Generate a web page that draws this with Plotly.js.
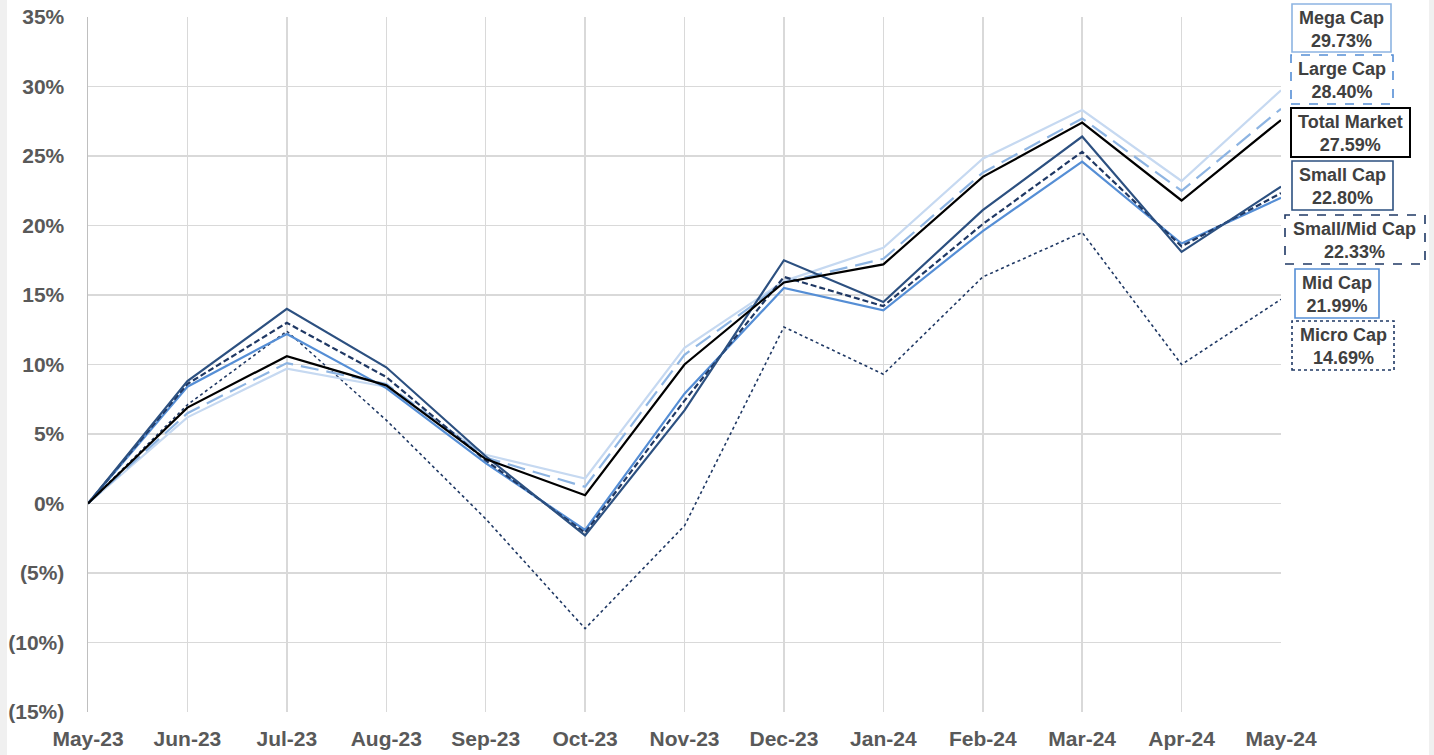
<!DOCTYPE html>
<html>
<head>
<meta charset="utf-8">
<script src="https://cdn.plot.ly/plotly-3.0.1.min.js"></script>
<style>html,body{margin:0;padding:0;background:#fff;}#chart{width:1434px;height:755px;}</style>
</head>
<body>
<div id="chart"></div>
<script>
// ---- Data ----
const months = ["May-23","Jun-23","Jul-23","Aug-23","Sep-23","Oct-23","Nov-23","Dec-23","Jan-24","Feb-24","Mar-24","Apr-24","May-24"];
const megaCap     = [0, 6.2, 9.7, 8.4, 3.5, 1.8, 11.2, 16.0, 18.4, 24.8, 28.3, 23.2, 29.73];
const largeCap    = [0, 6.5, 10.1, 8.6, 3.3, 1.2, 10.7, 15.9, 17.6, 23.8, 27.7, 22.5, 28.40];
const totalMarket = [0, 6.9, 10.6, 8.5, 3.2, 0.6, 10.0, 15.9, 17.2, 23.5, 27.4, 21.8, 27.59];
const smallCap    = [0, 8.8, 14.0, 9.8, 3.4, -2.3, 6.7, 17.5, 14.5, 21.1, 26.4, 18.1, 22.80];
const smallMidCap = [0, 8.6, 13.0, 9.1, 3.1, -2.1, 7.4, 16.3, 14.2, 20.1, 25.3, 18.5, 22.33];
const midCap      = [0, 8.4, 12.2, 8.3, 2.9, -1.9, 7.9, 15.5, 13.9, 19.6, 24.6, 18.7, 21.99];
const microCap    = [0, 7.1, 12.4, 6.0, -1.1, -9.0, -1.6, 12.7, 9.3, 16.3, 19.5, 10.0, 14.69];
const yTickVals = [-15,-10,-5,0,5,10,15,20,25,30,35];
const yTickText = ["(15%)","(10%)","(5%)","0%","5%","10%","15%","20%","25%","30%","35%"];
const seriesNames = ["Mega Cap","Large Cap","Total Market","Small Cap","Small/Mid Cap","Mid Cap","Micro Cap"];
const finalValues = ["29.73%","28.40%","27.59%","22.80%","22.33%","21.99%","14.69%"];

// ---- Styles ----
const W = 1434, H = 755;
const M = {l: 88, r: 153, t: 17, b: 43};
const pw = W - M.l - M.r, ph = H - M.t - M.b;
const px2x = p => (p - M.l) / pw;
const py2y = p => (H - M.b - p) / ph;

const styles = {
  "Mega Cap":      {color: "#C6D9F1", dash: "solid",   width: 2.2, box: "#8DB4E2", boxDash: "solid"},
  "Large Cap":     {color: "#8DB4E2", dash: "18px,8px", width: 2.2, box: "#558ED5", boxDash: "dash"},
  "Total Market":  {color: "#000000", dash: "solid",   width: 2.2, box: "#000000", boxDash: "solid"},
  "Small Cap":     {color: "#2C5080", dash: "solid",   width: 2.2, box: "#2C5080", boxDash: "solid"},
  "Small/Mid Cap": {color: "#1F3864", dash: "6px,3px", width: 2.2, box: "#1F3864", boxDash: "dash"},
  "Mid Cap":       {color: "#558ED5", dash: "solid",   width: 2.2, box: "#558ED5", boxDash: "solid"},
  "Micro Cap":     {color: "#1F3864", dash: "dot",     width: 1.6, box: "#1F3864", boxDash: "dot"}
};
// box pixel extents [x0,x1,y0,y1]
const boxes = {
  "Mega Cap":      [1292, 1391, 4, 52],
  "Large Cap":     [1291, 1393, 55, 104],
  "Total Market":  [1291, 1410, 108, 157],
  "Small Cap":     [1292, 1393, 161, 210],
  "Small/Mid Cap": [1285, 1425, 215, 264],
  "Mid Cap":       [1295, 1379, 269, 318],
  "Micro Cap":     [1292, 1394, 321, 370]
};

const valuesByName = {
  "Mega Cap": megaCap, "Large Cap": largeCap, "Total Market": totalMarket,
  "Small Cap": smallCap, "Small/Mid Cap": smallMidCap, "Mid Cap": midCap, "Micro Cap": microCap
};
const drawOrder = ["Micro Cap","Mega Cap","Large Cap","Mid Cap","Small/Mid Cap","Small Cap","Total Market"];
const traces = drawOrder.map(n => ({
  type: "scatter", mode: "lines", name: n, x: months, y: valuesByName[n],
  line: {color: styles[n].color, dash: styles[n].dash, width: styles[n].width},
  cliponaxis: false, hoverinfo: "skip"
}));

const shapes = [
  {type: "rect", xref: "paper", yref: "paper", x0: px2x(0), x1: px2x(7), y0: py2y(H), y1: py2y(0), fillcolor: "#F0F0F0", line: {width: 0}, layer: "below"},
  {type: "rect", xref: "paper", yref: "paper", x0: px2x(1429), x1: px2x(W), y0: py2y(H), y1: py2y(0), fillcolor: "#F0F0F0", line: {width: 0}, layer: "below"}
];
const annotations = [];
seriesNames.forEach((n, i) => {
  const b = boxes[n];
  shapes.push({type: "rect", xref: "paper", yref: "paper",
    x0: px2x(b[0]), x1: px2x(b[1]), y0: py2y(b[3]), y1: py2y(b[2]),
    fillcolor: "#FFFFFF", line: {color: styles[n].box, width: n === "Total Market" ? 2 : 1.6, dash: styles[n].boxDash}});
  annotations.push({xref: "paper", yref: "paper", x: px2x((b[0] + b[1]) / 2), y: py2y((b[2] + b[3]) / 2 + 1),
    xanchor: "center", yanchor: "middle", showarrow: false,
    text: "<b>" + n + "<br>" + finalValues[i] + "</b>",
    font: {family: "Liberation Sans, Arial, sans-serif", size: 18, color: "#404040"}});
});

const tickFont = {family: "Liberation Sans, Arial, sans-serif", size: 21, color: "#595959", weight: "bold"};
const layout = {
  width: W, height: H, margin: M, showlegend: false,
  paper_bgcolor: "#FFFFFF", plot_bgcolor: "#FFFFFF",
  xaxis: {type: "category", range: [0, 12], showgrid: true, gridcolor: "#D9D9D9", gridwidth: 1.5,
    tickfont: tickFont, ticks: "", showline: false, zeroline: false, ticklabelstandoff: 12, fixedrange: true},
  yaxis: {range: [-15, 35], tickvals: yTickVals, ticktext: yTickText, showgrid: true, gridcolor: "#D9D9D9", gridwidth: 1.5,
    tickfont: tickFont, ticks: "", showline: true, linecolor: "#BFBFBF", linewidth: 1.5, zeroline: false,
    ticklabelstandoff: 18, fixedrange: true},
  shapes: shapes, annotations: annotations
};
Plotly.newPlot("chart", traces, layout, {displayModeBar: false, staticPlot: true});
</script>
</body>
</html>
